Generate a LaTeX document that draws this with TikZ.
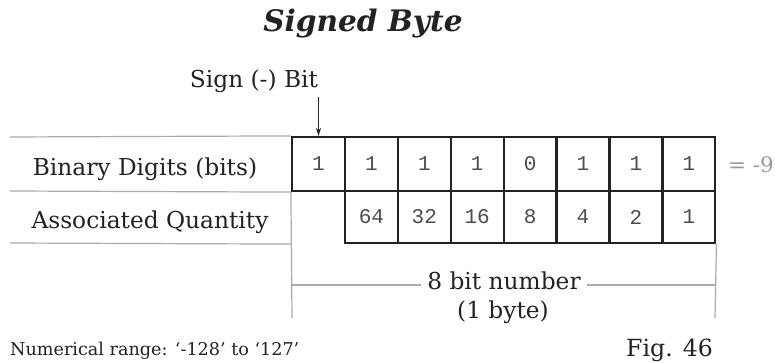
\documentclass[tikz,border=0pt]{standalone}
\usepackage{fontspec}
\setmainfont{DejaVu Serif}
\setmonofont{Liberation Mono}
\usetikzlibrary{arrows.meta}
\definecolor{thin}{HTML}{AAAAAA}
\definecolor{edge}{HTML}{222222}
\definecolor{txt}{HTML}{222222}
\definecolor{res}{HTML}{999999}
\begin{document}
\begin{tikzpicture}[x=1pt,y=-1pt,
  cell/.style={draw=edge,line width=2.2pt,minimum width=53pt,minimum height=54pt,inner sep=0pt,font=\fontsize{21}{21}\ttfamily\selectfont,text=black!70},
  qcell/.style={cell,minimum height=52pt},
  lbl/.style={font=\fontsize{23.3}{26}\selectfont,text=txt,inner sep=0pt,anchor=base},
  gline/.style={draw=thin,line width=1.2pt}]
\useasboundingbox (0,0) rectangle (775,363);
\node[font=\fontsize{29.6}{32}\bfseries\itshape\selectfont,text=txt,anchor=base,inner sep=0pt] (title) at (363,32) {Signed Byte};
% row 1
\foreach \v [count=\i] in {1,1,1,1,0,1,1,1}{
  \node[cell] (b\i) at ({292+26.5+(\i-1)*52.9},164) {\v};
}
% row 2
\node[qcell,draw=none] (q1) at (318.5,217) {};
\foreach \v [count=\i from 2] in {64,32,16,8,4,2,1}{
  \node[qcell] (q\i) at ({292+26.5+(\i-1)*52.9},217) {\v};
}
\node[lbl] (sign) at (254,88) {Sign (-) Bit};
\draw[-{Stealth[length=8pt,width=5pt]},line width=0.8pt,draw=txt] (318.5,97) -- (b1.north);
\node[lbl] (bd) at (145,176) {Binary Digits (bits)};
\node[lbl] (aq) at (150,228) {Associated Quantity};
\node[font=\fontsize{21.4}{24}\selectfont,text=res,anchor=base west,inner sep=0pt] (eq) at (728,173) {= -9};
% gray row lines
\coordinate (l1) at (10,137);
\coordinate (l2) at (10,191);
\coordinate (l3) at (10,243);
\draw[gline] (l1) -- (b1.north west);
\draw[gline] (l2) -- (b1.south west);
\draw[gline] (l3) -- (q1.south west);
% dimension
\coordinate (dl) at (292,318);
\coordinate (dr) at (715,318);
\coordinate (dlm) at (292,285);
\coordinate (drm) at (715,285);
\draw[gline] (b1.south west) -- (dl);
\draw[gline] (q8.south east) -- (dr);
\node[lbl,inner sep=6pt] (nb) at (504,289) {8 bit number};
\node[lbl] (byte) at (503,318) {(1 byte)};
\draw[gline] (dlm) -- (nb.west |- dlm);
\draw[gline] (nb.east |- drm) -- (drm);
\node[font=\fontsize{17.6}{20}\selectfont,text=txt,anchor=base west,inner sep=0pt] (range) at (10,355) {Numerical range: ‘-128’ to ‘127’};
\node[font=\fontsize{23.6}{26}\selectfont,text=txt,anchor=base east,inner sep=0pt] (fig) at (713,356) {Fig. 46};
\end{tikzpicture}
\end{document}
